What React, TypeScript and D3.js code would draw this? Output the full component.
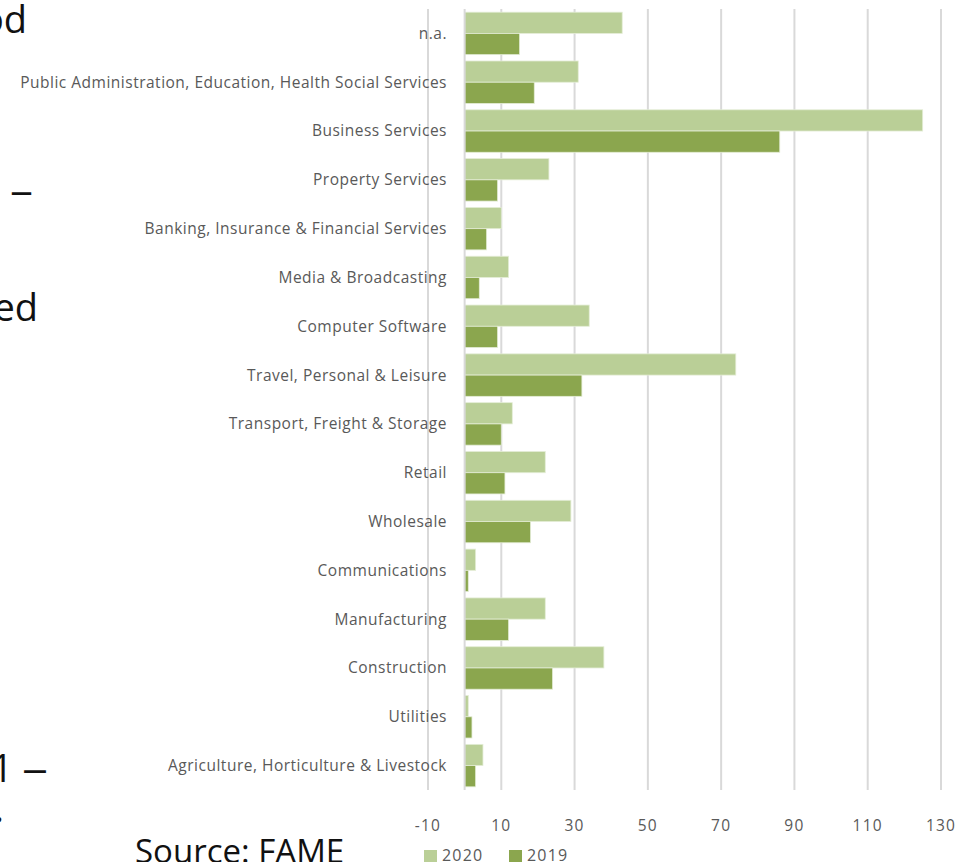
import * as d3 from 'd3';

const categories = [
  'n.a.',
  'Public Administration, Education, Health Social Services',
  'Business Services',
  'Property Services',
  'Banking, Insurance & Financial Services',
  'Media & Broadcasting',
  'Computer Software',
  'Travel, Personal & Leisure',
  'Transport, Freight & Storage',
  'Retail',
  'Wholesale',
  'Communications',
  'Manufacturing',
  'Construction',
  'Utilities',
  'Agriculture, Horticulture & Livestock',
];

const values2020 = [43, 31, 125, 23, 10, 12, 34, 74, 13, 22, 29, 3, 22, 38, 1, 5];
const values2019 = [15, 19, 86, 9, 6, 4, 9, 32, 10, 11, 18, 1, 12, 24, 2, 3];

const seriesNames = ['2020', '2019'];
const seriesColors = ['#bacf97', '#8ba64e'];

const tickValues = [-10, 10, 30, 50, 70, 90, 110, 130];

// cut-off slide text on the left edge
const sideTexts = [
  { text: 'od', x: 27, y: 33 },
  { text: 'ed', x: 38, y: 321 },
  { text: '1', x: 13, y: 782 },
  { text: '.', x: 4, y: 822 },
];
const dashes = [
  { x: 10, y: 204, len: 23 },
  { x: 22, y: 782, len: 26 },
];

const width = 971;
const height = 862;
const plotTop = 9;
const plotBottom = 790;

export default function App() {
  const x = d3.scaleLinear().domain([-10, 130]).range([428, 941]);
  const y = d3
    .scaleBand<string>()
    .domain(categories)
    .range([plotTop, plotBottom])
    .paddingInner(0.13)
    .paddingOuter(0.065);
  const inner = d3.scaleBand<string>().domain(seriesNames).range([0, y.bandwidth()]);

  const rows = categories.map((c, i) => ({ c, vals: [values2020[i], values2019[i]] }));

  return (
    <svg
      width={width}
      height={height}
      style={{ position: 'absolute', left: 0, top: 0, background: '#fff' }}
      fontFamily="'Open Sans', sans-serif"
    >
      {sideTexts.map((t, i) => (
        <text key={i} x={t.x} y={t.y} fontSize={38} textAnchor="end" fill="#111">
          {t.text}
        </text>
      ))}
      {dashes.map((d, i) => (
        <text
          key={i}
          x={d.x}
          y={d.y}
          fontSize={38}
          fill="#111"
          textLength={d.len}
          lengthAdjust="spacingAndGlyphs"
        >
          –
        </text>
      ))}
      <text x={135} y={863} fontSize={33} fill="#111">
        Source: FAME
      </text>

      {/* gridlines */}
      {tickValues.map((t) => (
        <line
          key={t}
          x1={x(t)}
          x2={x(t)}
          y1={plotTop}
          y2={plotBottom}
          stroke="#d9d9d9"
          strokeWidth={2}
        />
      ))}

      {/* bars */}
      {rows.map((r) =>
        r.vals.map((v, j) => (
          <rect
            key={r.c + j}
            x={x(Math.min(0, v))}
            y={(y(r.c) ?? 0) + (inner(seriesNames[j]) ?? 0)}
            width={Math.abs(x(v) - x(0))}
            height={inner.bandwidth()}
            fill={seriesColors[j]}
            stroke="#e4edd6"
            strokeWidth={0.8}
          />
        )),
      )}

      {/* vertical axis at 0 */}
      <line x1={x(0)} x2={x(0)} y1={plotTop} y2={plotBottom} stroke="#d9d9d9" strokeWidth={2} />

      {/* category labels */}
      {categories.map((c) => (
        <text
          key={c}
          x={447}
          y={(y(c) ?? 0) + y.bandwidth() / 2}
          dy="0.35em"
          textAnchor="end"
          fontSize={15.5}
          letterSpacing={0.5}
          fill="#595959"
        >
          {c}
        </text>
      ))}

      {/* tick labels */}
      {tickValues.map((t) => (
        <text
          key={t}
          x={x(t)}
          y={831}
          textAnchor="middle"
          fontSize={15.5}
          letterSpacing={1.2}
          fill="#595959"
        >
          {t}
        </text>
      ))}

      {/* legend */}
      {seriesNames.map((s, i) => (
        <g key={s} transform={`translate(${424 + i * 85},850)`}>
          <rect width={13} height={13} fill={seriesColors[i]} />
          <text x={18} y={11} fontSize={16} letterSpacing={1.2} fill="#595959">
            {s}
          </text>
        </g>
      ))}
    </svg>
  );
}
